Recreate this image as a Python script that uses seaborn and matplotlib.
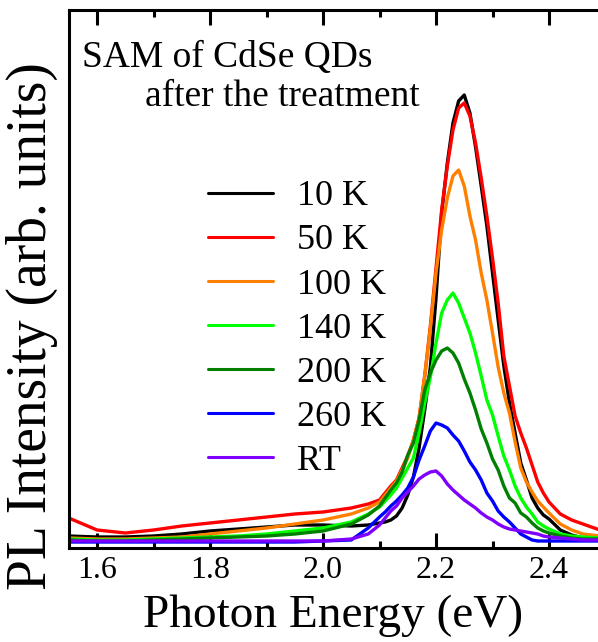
import matplotlib
matplotlib.use("Agg")
import matplotlib.pyplot as plt
from matplotlib.ticker import MultipleLocator
import pandas as pd
import seaborn as sns

# Photon energy grid (eV): coarse in the low-energy tail, fine across the band-edge peak
energy_ev = [1.55, 1.60, 1.65, 1.70, 1.75, 1.80, 1.85, 1.90, 1.95, 2.00, 2.05, 2.08,
             2.10, 2.11, 2.12, 2.13, 2.14, 2.15, 2.16, 2.17, 2.18, 2.19, 2.20,
             2.21, 2.22, 2.23, 2.24, 2.25, 2.26, 2.27, 2.28, 2.29, 2.30,
             2.31, 2.32, 2.33, 2.34, 2.35, 2.36, 2.37, 2.38, 2.39, 2.40,
             2.42, 2.44, 2.46, 2.49]

# PL intensity (arb. units) at each temperature
pl_10k = [12, 11, 11, 12, 14, 17, 19, 21, 23, 23, 22, 23,
          25, 26, 28, 32, 40, 53, 71, 100, 138, 181, 250,
          335, 385, 425, 447, 453, 435, 401, 362, 322, 275,
          228, 182, 145, 115, 85, 68, 50, 40, 33, 29,
          18, 13, 10, 9]
pl_50k = [30, 18, 15, 18, 22, 25, 28, 31, 34, 36, 40, 44,
          48, 55, 62, 68, 80, 92, 108, 130, 172, 222, 280,
          338, 382, 418, 440, 445, 432, 405, 370, 332, 290,
          245, 192, 162, 132, 115, 100, 83, 66, 55, 46,
          34, 28, 24, 18]
pl_100k = [10, 9, 9, 10, 11, 14, 17, 20, 24, 28, 34, 40,
           46, 53, 60, 67, 78, 90, 108, 130, 172, 220, 275,
           318, 350, 372, 378, 362, 332, 308, 275, 248, 215,
           181, 155, 135, 106, 80, 66, 56, 47, 41, 35,
           24, 18, 14, 12]
pl_140k = [9, 8, 8, 9, 10, 11, 12, 14, 17, 20, 26, 34,
           41, 47, 53, 60, 70, 80, 90, 115, 145, 171, 205,
           235, 248, 255, 245, 230, 215, 195, 172, 148, 133,
           112, 92, 78, 62, 50, 41, 34, 26, 22, 19,
           14, 12, 11, 10]
pl_200k = [8, 7, 7, 8, 9, 10, 11, 12, 14, 17, 24, 33,
           42, 50, 58, 65, 76, 93, 105, 128, 158, 175, 188,
           197, 200, 195, 185, 169, 155, 138, 119, 105, 89,
           78, 62, 50, 45, 35, 31, 25, 20, 17, 15,
           12, 10, 9, 9]
pl_260k = [6, 6, 6, 6, 6, 6, 6, 6, 6, 7, 8, 20,
           31, 36, 42, 47, 53, 60, 71, 88, 102, 117, 125,
           123, 120, 113, 107, 97, 86, 78, 68, 55, 47,
           37, 31, 26, 20, 14, 11, 8, 7, 7, 7,
           7, 7, 7, 7]
pl_rt = [7, 7, 7, 7, 7, 7, 7, 7, 7, 7, 9, 14,
         23, 30, 37, 42, 50, 56, 62, 69, 73, 76, 77,
         72, 64, 58, 53, 48, 44, 40, 35, 31, 28,
         24, 21, 19, 18, 17, 16, 15, 14, 12, 11,
         10, 9, 8, 8]

sample_labels = ["10 K", "50 K", "100 K", "140 K", "200 K", "260 K", "RT"]
sample_colors = ["#000000", "#ff0000", "#ff8000", "#00ff00", "#008000", "#0000ff", "#8000ff"]
x_ticks = [1.6, 1.8, 2.0, 2.2, 2.4]
x_tick_labels = ["1.6", "1.8", "2.0", "2.2", "2.4"]

spectra = [pl_10k, pl_50k, pl_100k, pl_140k, pl_200k, pl_260k, pl_rt]
df = pd.concat(
    [pd.DataFrame({"energy": energy_ev, "intensity": s, "sample": lab})
     for s, lab in zip(spectra, sample_labels)],
    ignore_index=True,
)

sns.set_style("white")
plt.rcParams["font.family"] = ["Liberation Serif", "DejaVu Serif"]
plt.rcParams["text.color"] = "black"
plt.rcParams["axes.labelcolor"] = "black"
plt.rcParams["xtick.color"] = "black"
plt.rcParams["ytick.color"] = "black"

fig = plt.figure(figsize=(5.98, 6.42), dpi=100)
ax = fig.add_axes([69 / 598, 94 / 642, 529 / 598, 538 / 642])

sns.lineplot(data=df, x="energy", y="intensity", hue="sample",
             hue_order=sample_labels, palette=sample_colors,
             linewidth=2.4, estimator=None, sort=True, ax=ax)

ax.set_xlim(1.5504, 2.4867)
ax.set_ylim(0, 538)

for side in ("left", "top", "bottom"):
    ax.spines[side].set_linewidth(2.2)
    ax.spines[side].set_color("black")
ax.spines["right"].set_visible(False)

ax.set_yticks([])
ax.set_xticks(x_ticks, x_tick_labels)
ax.xaxis.set_minor_locator(MultipleLocator(0.1))
ax.tick_params(axis="x", which="both", direction="in", top=True, bottom=True,
               width=2.2, color="black", labelcolor="black", labelsize=23, pad=6)
ax.tick_params(axis="x", which="major", length=10.8)
ax.tick_params(axis="x", which="minor", length=5)

ax.set_xlabel("Photon Energy (eV)", fontsize=34, va="center", color="black")
ax.xaxis.set_label_coords(0.5, -0.126)
ax.set_ylabel("PL Intensity (arb. units)", fontsize=40, va="center", color="black")
ax.yaxis.set_label_coords(-0.070, 0.4126)

handles, labels = ax.get_legend_handles_labels()
leg = ax.legend(handles, labels, loc="upper left", bbox_to_anchor=(0.263, 0.684),
                frameon=False, fontsize=26, handlelength=1.8, handletextpad=0.66,
                labelspacing=0.3, borderpad=0, borderaxespad=0)
for line in leg.get_lines():
    line.set_linewidth(2.2)
for txt in leg.get_texts():
    txt.set_color("black")

ax.text(0.0246, 0.894, "SAM of CdSe QDs", transform=ax.transAxes,
        fontsize=27, ha="left", va="baseline", color="black")
ax.text(0.1437, 0.8216, "after the treatment", transform=ax.transAxes,
        fontsize=27, ha="left", va="baseline", color="black")

fig.savefig("out.png", dpi=100)
